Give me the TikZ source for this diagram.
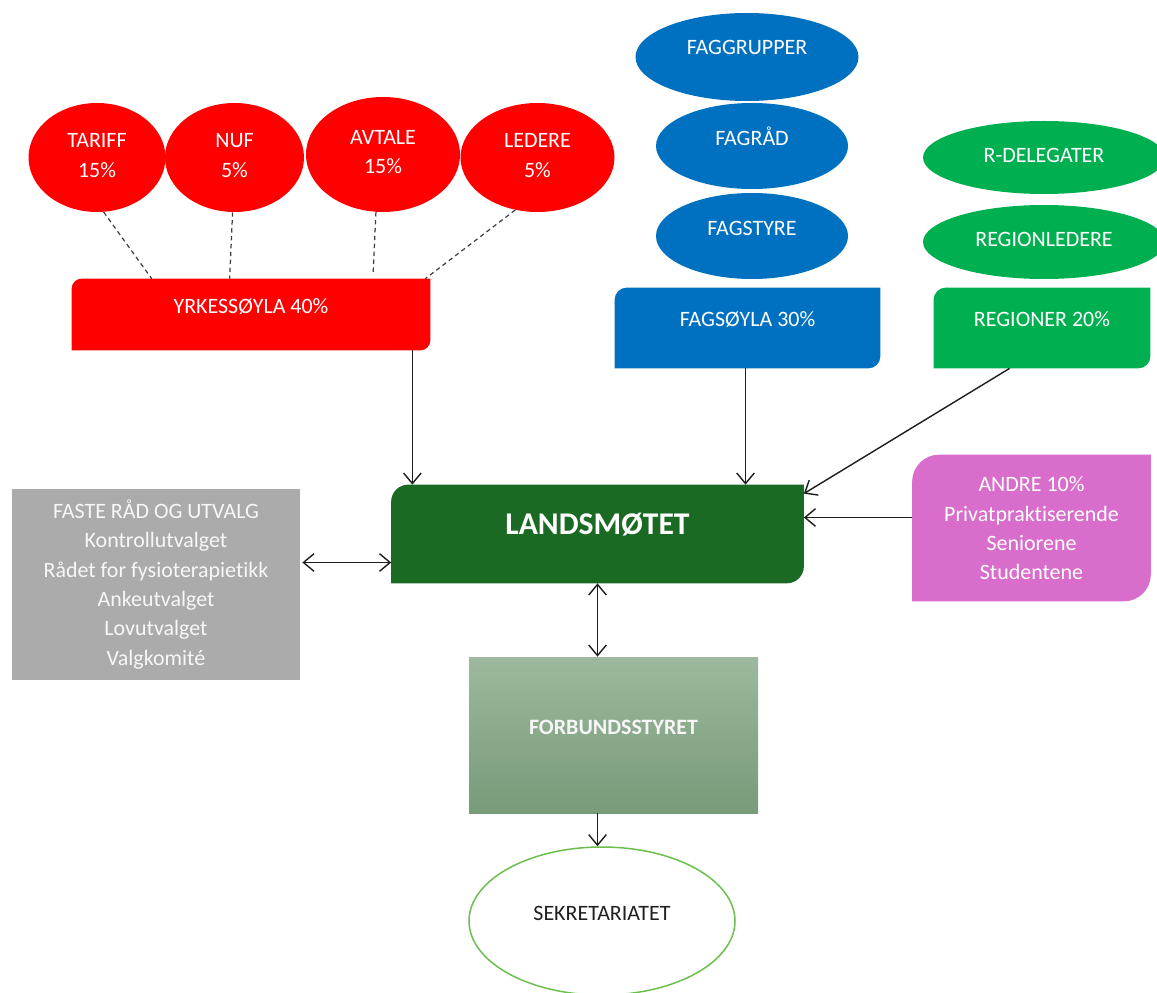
\documentclass[tikz,border=0pt]{standalone}
\usepackage{fontspec}
\setmainfont{Carlito}[Ligatures=NoCommon]
\usetikzlibrary{shapes.geometric,arrows.meta,backgrounds}
\newlength\pu
\setlength\pu{0.02cm}
\definecolor{cred}{HTML}{FF0000}
\definecolor{cblue}{HTML}{0070C0}
\definecolor{cgreen}{HTML}{00B050}
\definecolor{cdark}{HTML}{1B6A24}
\definecolor{cpink}{HTML}{D86DCB}
\definecolor{cgray}{HTML}{ABABAB}
\definecolor{cftop}{HTML}{9DB89E}
\definecolor{cfbot}{HTML}{789B79}
\definecolor{cline}{HTML}{1E1E1E}
\definecolor{cring}{HTML}{6CBF4E}
\newcommand\lift[2]{\raisebox{#1}[\height][\depth]{#2}}
\newcommand\diagfill[3]{%
  \fill[#2] (#1.south west) -- ([yshift=-#3]#1.north west)
    arc[start angle=180,end angle=90,radius=#3] -- (#1.north east)
    -- ([yshift=#3]#1.south east)
    arc[start angle=0,end angle=-90,radius=#3] -- cycle;}
\tikzset{
  ell/.style={ellipse, inner sep=0pt, text=white, align=center},
  boxnode/.style={rectangle, inner sep=0pt, text=white, align=center},
  arr/.style={draw=cline, line width=0.8pt, -{Straight Barb[length=6pt,width=10pt]}},
  darr/.style={draw=cline, line width=0.8pt, {Straight Barb[length=6pt,width=10pt]}-{Straight Barb[length=6pt,width=10pt]}},
  dln/.style={draw=cline!85, line width=0.7pt, dash pattern=on 2.5pt off 2pt}
}
\begin{document}
\begin{tikzpicture}[x=0.02cm, y=-0.02cm, font=\fontsize{12.5}{16.7}\selectfont]
\useasboundingbox (0,0) rectangle (1157,993);
\begin{scope}[on background layer]
  \fill[white] (0,0) rectangle (1157,993);
\end{scope}

% red ellipses
\node[ell, fill=cred, minimum width=137\pu, minimum height=109\pu] (tariff) at (97,157.5) {\lift{1\pu}{\begin{tabular}{@{}c@{}}TARIFF\\15\%\end{tabular}}};
\node[ell, fill=cred, minimum width=139\pu, minimum height=109\pu] (nuf) at (234.5,157.5) {\lift{1\pu}{\begin{tabular}{@{}c@{}}NUF\\5\%\end{tabular}}};
\node[ell, fill=cred, minimum width=154\pu, minimum height=115\pu] (avtale) at (383,154.5) {\lift{1.5\pu}{\begin{tabular}{@{}c@{}}AVTALE\\15\%\end{tabular}}};
\node[ell, fill=cred, minimum width=154\pu, minimum height=109\pu] (ledere) at (537.5,157.5) {\lift{1\pu}{\begin{tabular}{@{}c@{}}LEDERE\\5\%\end{tabular}}};

% blue ellipses
\node[ell, fill=cblue, minimum width=223\pu, minimum height=88\pu] (faggr) at (747,57) {\lift{10\pu}{FAGGRUPPER}};
\node[ell, fill=cblue, minimum width=192\pu, minimum height=86\pu] (fagrad) at (752,146) {\lift{10\pu}{FAGRÅD}};
\node[ell, fill=cblue, minimum width=192\pu, minimum height=86\pu] (fagstyre) at (752,236) {\lift{8\pu}{FAGSTYRE}};

% green ellipses
\node[ell, fill=cgreen, minimum width=242\pu, minimum height=73\pu] (rdel) at (1044,157.5) {\lift{2.5\pu}{R-DELEGATER}};
\node[ell, fill=cgreen, minimum width=242\pu, minimum height=74\pu] (regled) at (1044,242) {\lift{2.5\pu}{REGIONLEDERE}};

% boxes
\node[boxnode, minimum width=358\pu, minimum height=71\pu] (yrk) at (251,314.5) {\lift{7.5\pu}{YRKESSØYLA 40\%}};
\node[boxnode, minimum width=265\pu, minimum height=80\pu] (fags) at (747.5,328) {\lift{8.5\pu}{FAGSØYLA 30\%}};
\node[boxnode, minimum width=216\pu, minimum height=80\pu] (reg) at (1042,328) {\lift{8.5\pu}{REGIONER 20\%}};
\node[boxnode, minimum width=412\pu, minimum height=98\pu, font=\fontsize{18}{22}\selectfont\bfseries] (land) at (597.5,534) {\lift{9\pu}{LANDSMØTET}};
\node[boxnode, minimum width=238\pu, minimum height=146\pu] (andre) at (1031.5,528) {\lift{-2\pu}{\begin{tabular}{@{}c@{}}ANDRE 10\%\\Privatpraktiserende\\Seniorene\\Studentene\end{tabular}}};
\node[boxnode, fill=cgray, text=white!94!gray, minimum width=288\pu, minimum height=191\pu] (faste) at (156,584.5) {FASTE RÅD OG UTVALG\\Kontrollutvalget\\Rådet for fysioterapietikk\\Ankeutvalget\\Lovutvalget\\Valgkomité};
\node[boxnode, top color=cftop, bottom color=cfbot, text=white!93!gray, font=\fontsize{12.5}{16.7}\selectfont\bfseries, minimum width=289\pu, minimum height=156\pu] (forb) at (613.5,735) {\lift{8\pu}{FORBUNDSSTYRET}};
\node[ell, draw=cring, line width=0.85pt, fill=white, text=black!88, minimum width=266\pu, minimum height=148\pu] (sekr) at (602,921) {\lift{8\pu}{SEKRETARIATET}};

\begin{scope}[on background layer]
  \diagfill{yrk}{cred}{10\pu}
  \diagfill{fags}{cblue}{12\pu}
  \diagfill{reg}{cgreen}{12\pu}
  \diagfill{land}{cdark}{17\pu}
  \diagfill{andre}{cpink}{27\pu}
\end{scope}

% dashed connectors
\draw[dln] (tariff.-83) -- ([xshift=80\pu]yrk.north west);
\draw[dln] (nuf.-92) -- ([xshift=158\pu]yrk.north west);
\draw[dln] (avtale.-97) -- ([xshift=301.5\pu,yshift=5\pu]yrk.north west);
\draw[dln] (ledere.247) -- ([xshift=-5\pu]yrk.north east);

% arrows
\draw[arr] ([xshift=-18\pu]yrk.south east) -- ([xshift=-18\pu]yrk.south east |- land.north);
\draw[arr] ([xshift=-2\pu]fags.south) -- ([xshift=-2\pu]fags.south |- land.north);
\draw[arr] ([xshift=76\pu]reg.south west) -- ([yshift=-9\pu]land.north east);
\draw[arr] ([yshift=10.5\pu]andre.west) -- ([yshift=10.5\pu]andre.west -| land.east);
\draw[darr] ([xshift=2\pu,yshift=22\pu]faste.east) -- ([yshift=22\pu]faste.east -| land.west);
\draw[darr] (land.south) -- (land.south |- forb.north);
\draw[arr] (land.south |- forb.south) -- (land.south |- sekr.north);
\end{tikzpicture}
\end{document}
